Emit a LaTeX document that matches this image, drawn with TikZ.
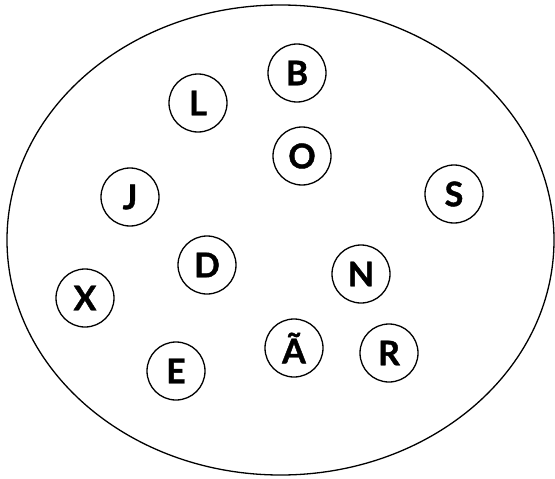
\documentclass[tikz,border=0pt]{standalone}
\usepackage{fontspec}
\setmainfont{Lato}
\newfontfamily\heavyfont[BoldFeatures={FakeBold=1.2}]{Lato}
\usetikzlibrary{shapes.geometric}
\begin{document}
\begin{tikzpicture}[x=1pt,y=-1pt,
  letter/.style={draw,circle,minimum size=58pt,inner sep=0pt,line width=1.3pt,
    font=\fontsize{34}{34}\heavyfont\bfseries}]
\useasboundingbox (0,0) rectangle (555,479);
\node[draw,ellipse,line width=1.3pt,minimum width=547pt,minimum height=470pt,inner sep=0pt] (set) at (280.5,240) {};
\node[letter] (B) at (297,73) {B};
\node[letter] (L) at (198,103) {L};
\node[letter] (O) at (302,156) {O};
\node[letter] (J) at (130,197) {J};
\node[letter] (S) at (454,194) {S};
\node[letter] (D) at (207,265) {D};
\node[letter] (N) at (361,274) {N};
\node[letter] (X) at (85,298) {X};
\node[letter] (At) at (294,348) {Ã};
\node[letter] (R) at (389,353) {R};
\node[letter] (E) at (176,371) {E};
\end{tikzpicture}
\end{document}
